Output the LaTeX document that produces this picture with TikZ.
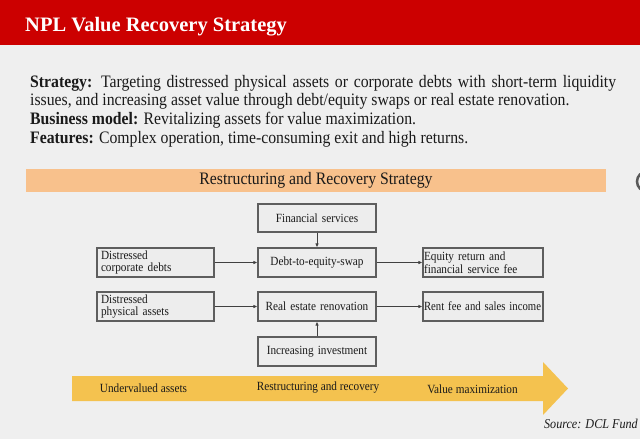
\documentclass[tikz,border=0pt]{standalone}
\usepackage{fontspec}
\usepackage{graphicx}
\setmainfont{Liberation Serif}[FakeStretch=0.9]
\newfontfamily\titlefont{Liberation Serif}
\usetikzlibrary{arrows.meta}
\definecolor{bg}{HTML}{EFEFEF}
\definecolor{hdr}{HTML}{CC0000}
\definecolor{band}{HTML}{F8C18C}
\definecolor{flow}{HTML}{F4C24F}
\definecolor{boxline}{HTML}{5E5E5E}
\definecolor{boxfill}{HTML}{EDEDED}
\definecolor{txt}{HTML}{1A1A1A}
\begin{document}
\begin{tikzpicture}[x=1pt,y=-1pt,
  box/.style={draw=boxline, line width=1.1pt, fill=boxfill, minimum height=29pt, inner ysep=0pt, font=\fontsize{12.5}{12.5}\selectfont, text=txt},
  lbox/.style={box, text width=109pt, inner xsep=4pt, align=left},
  cbox/.style={box, text width=112pt, inner xsep=3pt, align=center},
  rbox/.style={box, text width=118pt, inner xsep=1pt, align=left},
  conn/.style={draw=black!75, line width=0.8pt, -{Latex[length=4pt,width=3.5pt]}},
  bodyline/.style={anchor=base west, inner sep=0pt, font=\fontsize{17.5}{18.5}\selectfont, text=txt},
  flowlabel/.style={inner sep=0pt, font=\fontsize{12.5}{12.5}\selectfont, text=txt}
]
\useasboundingbox (0,0) rectangle (640,439);
\fill[bg] (0,0) rectangle (640,439);
% header
\fill[hdr] (0,0) rectangle (640,45);
\node[anchor=base west, inner sep=0pt, text=white, font=\titlefont\bfseries\fontsize{20.5}{20.5}\selectfont] (title) at (25,31.7) {NPL Value Recovery Strategy};
% body text
\node[bodyline] (l1) at (30,87.7) {\makebox[586pt][s]{\textbf{Strategy:} Targeting distressed physical assets or corporate debts with short-term liquidity}};
\node[bodyline] (l2) at (30,105.8) {issues, and increasing asset value through debt/equity swaps or real estate renovation.};
\node[bodyline] (l3) at (30,124.5) {\textbf{Business model:} Revitalizing assets for value maximization.};
\node[bodyline] (l4) at (30,143.3) {\textbf{Features:} Complex operation, time-consuming exit and high returns.};
% band
\node[fill=band, minimum width=580pt, minimum height=23pt, inner sep=0pt, font=\fontsize{17.5}{17.5}\selectfont, text=txt] (bandnode) at (316,180.5) {Restructuring and Recovery Strategy};
\draw[draw=black!65, line width=2.5pt] (647,181.5) circle (10pt);
% boxes
\node[cbox, minimum height=28pt] (fin) at (317,218) {Financial services};
\node[cbox] (debt) at (317,262.5) {Debt-to-equity-swap};
\node[lbox] (dcd) at (155.5,262.5) {Distressed\\corporate debts};
\node[rbox] (eq) at (483,262.5) {Equity return and\\financial service fee};
\node[lbox] (dpa) at (155.5,306.5) {Distressed\\physical assets};
\node[cbox] (real) at (317,306.5) {Real estate renovation};
\node[rbox] (rent) at (483,306.5) {\resizebox{117pt}{\height}{Rent fee and sales income}};
\node[cbox] (inc) at (317,351.5) {Increasing investment};
% connectors
\draw[conn] (fin) -- (debt);
\draw[conn] (dcd) -- (debt);
\draw[conn] (debt) -- (eq);
\draw[conn] (dpa) -- (real);
\draw[conn] (real) -- (rent);
\draw[conn] (inc) -- (real);
% flow arrow
\fill[flow] (72,376) -- (543,376) -- (543,362) -- (568,388.5) -- (543,415) -- (543,401) -- (72,401) -- cycle;
\node[flowlabel] (ua) at (143.5,388.5) {Undervalued assets};
\node[flowlabel] (rr) at (318,388) {Restructuring and recovery};
\node[flowlabel] (vm) at (472.5,389) {Value maximization};
% source
\node[anchor=east, inner sep=0pt, font=\itshape\fontsize{13.5}{13.5}\selectfont, text=txt] (src) at (638,424) {Source: DCL Fund};
\end{tikzpicture}
\end{document}
